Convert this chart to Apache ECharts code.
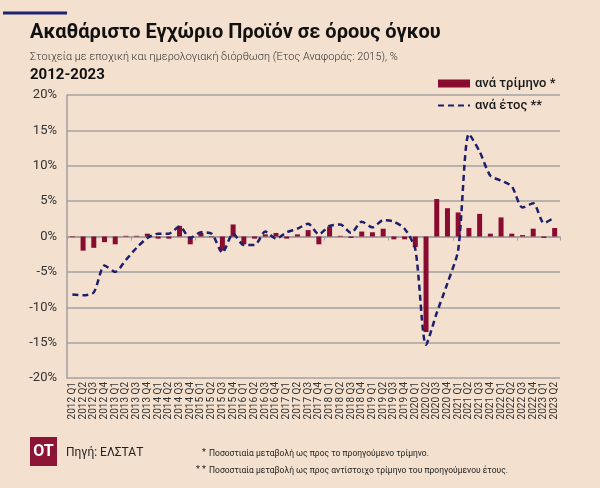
<!DOCTYPE html>
<html>
<head>
<meta charset="utf-8">
<script src="https://cdn.jsdelivr.net/npm/echarts@6/dist/echarts.min.js"></script>
<style>
html,body{margin:0;padding:0;background:#F3E0CE;}
#c{width:600px;height:488px;}
</style>
</head>
<body>
<div id="c"></div>
<script>
const quarters = [
 "2012 Q1","2012 Q2","2012 Q3","2012 Q4","2013 Q1","2013 Q2","2013 Q3","2013 Q4",
 "2014 Q1","2014 Q2","2014 Q3","2014 Q4","2015 Q1","2015 Q2","2015 Q3","2015 Q4",
 "2016 Q1","2016 Q2","2016 Q3","2016 Q4","2017 Q1","2017 Q2","2017 Q3","2017 Q4",
 "2018 Q1","2018 Q2","2018 Q3","2018 Q4","2019 Q1","2019 Q2","2019 Q3","2019 Q4",
 "2020 Q1","2020 Q2","2020 Q3","2020 Q4","2021 Q1","2021 Q2","2021 Q3","2021 Q4",
 "2022 Q1","2022 Q2","2022 Q3","2022 Q4","2023 Q1","2023 Q2"
];
const perQuarter = [
 -0.1,-2.0,-1.6,-0.8,-1.1,0.1,0.1,0.4,
 -0.3,-0.3,1.5,-1.1,0.5,-0.1,-2.0,1.7,
 -1.1,-0.3,0.3,0.5,-0.3,0.3,0.9,-1.1,
 1.4,0.1,-0.2,0.7,0.6,1.1,-0.4,-0.4,
 -1.5,-13.5,5.3,4.0,3.4,1.2,3.2,0.4,
 2.7,0.4,0.2,1.1,-0.2,1.2
];
const perYear = [
 -8.2,-8.3,-7.9,-4.1,-5.0,-3.3,-1.6,-0.2,
 0.4,0.4,1.4,-0.2,0.6,0.4,-2.3,0.4,
 -1.2,-1.2,0.7,-0.3,0.6,1.1,1.8,0.3,
 1.5,1.7,0.5,2.1,1.3,2.3,2.1,1.1,
 -1.8,-15.3,-10.8,-6.6,-1.9,14.5,12.0,8.6,
 7.9,7.1,4.1,4.7,1.9,2.7
];
const yTicks = {min:-20, max:20, step:5};
const seriesNames = ["ανά τρίμηνο *","ανά έτος **"];

const chart = echarts.init(document.getElementById('c'), null, {renderer:'canvas'});
const FONT = 'Roboto, "Noto Sans", sans-serif';
chart.setOption({
  backgroundColor:'#F3E0CE',
  animation:false,
  grid:{left:67, right:40, top:95, bottom:110, containLabel:false},
  legend:{
    orient:'vertical', left:432, top:72, itemWidth:32, itemHeight:8, itemGap:9,
    textStyle:{fontFamily:FONT, fontSize:13, fontWeight:500, color:'#1a1a1a'},
    data:[
      {name:seriesNames[0], icon:'rect'},
      {name:seriesNames[1], itemStyle:{opacity:0}}
    ]
  },
  xAxis:[
    {type:'category', data:quarters, position:'bottom',
     axisLine:{show:false, onZero:false}, axisTick:{show:false},
     axisLabel:{rotate:90, interval:0, fontFamily:FONT, fontSize:10, color:'#333', margin:4}},
    {type:'category', data:quarters, position:'bottom',
     axisLine:{show:true, onZero:true, lineStyle:{color:'#a0a0a0', width:1.5}},
     axisTick:{show:true, length:4, lineStyle:{color:'#a0a0a0', width:1}},
     axisLabel:{show:false}}
  ],
  yAxis:{
    type:'value', min:yTicks.min, max:yTicks.max, interval:yTicks.step,
    axisLine:{show:true, lineStyle:{color:'#a0a0a0', width:1.5}},
    axisTick:{show:false},
    axisLabel:{formatter:'{value}%', fontFamily:FONT, fontSize:13, color:'#333', margin:10},
    splitLine:{lineStyle:{color:'#a3a3a3', width:1.5}}
  },
  series:[
    {name:seriesNames[0], type:'bar', xAxisIndex:0, data:perQuarter, barWidth:5,
     itemStyle:{color:'#8A0B30'}},
    {name:seriesNames[1], type:'line', xAxisIndex:0, data:perYear, symbol:'none', smooth:0.25,
     lineStyle:{color:'#1C1F6B', width:2.5, type:[6,4]}, itemStyle:{color:'#1C1F6B'}}
  ],
  graphic:[
    {type:'rect', shape:{x:3, y:11.5, width:64, height:3}, style:{fill:'#1F2470'}},
    {type:'text', x:30, y:33, style:{text:'Ακαθάριστο Εγχώριο Προϊόν σε όρους όγκου', fontFamily:FONT, fontSize:20, fontWeight:'bold', fill:'#111', textVerticalAlign:'middle'}},
    {type:'text', x:30, y:57, style:{text:'Στοιχεία με εποχική και ημερολογιακή διόρθωση (Έτος Αναφοράς: 2015), %', fontFamily:FONT, fontSize:10.9, fontWeight:300, fill:'#333', textVerticalAlign:'middle'}},
    {type:'text', x:30, y:75, style:{text:'2012-2023', fontFamily:FONT, fontSize:15, fontWeight:'bold', fill:'#111', textVerticalAlign:'middle'}},
    {type:'rect', shape:{x:30, y:437, width:27, height:29}, style:{fill:'#8C1434'}},
    {type:'text', x:43.5, y:452, style:{text:'OT', fontFamily:FONT, fontSize:16, fontWeight:'bold', fill:'#fff', textAlign:'center', textVerticalAlign:'middle'}},
    {type:'text', x:66, y:453, style:{text:'Πηγή: ΕΛΣΤΑΤ', fontFamily:FONT, fontSize:12, fill:'#222', textVerticalAlign:'middle'}},
    {type:'text', x:206, y:453, style:{text:'*', fontFamily:FONT, fontSize:9, fill:'#222', textAlign:'right', textVerticalAlign:'middle'}},
    {type:'text', x:209, y:454, style:{text:'Ποσοστιαία μεταβολή ως προς το προηγούμενο τρίμηνο.', fontFamily:FONT, fontSize:8.5, fill:'#222', textVerticalAlign:'middle'}},
    {type:'text', x:206, y:470, style:{text:'* *', fontFamily:FONT, fontSize:9, fill:'#222', textAlign:'right', textVerticalAlign:'middle'}},
    {type:'text', x:209, y:471, style:{text:'Ποσοστιαία μεταβολή ως προς αντίστοιχο τρίμηνο του προηγούμενου έτους.', fontFamily:FONT, fontSize:8.5, fill:'#222', textVerticalAlign:'middle'}}
  ]
});
</script>
</body>
</html>
